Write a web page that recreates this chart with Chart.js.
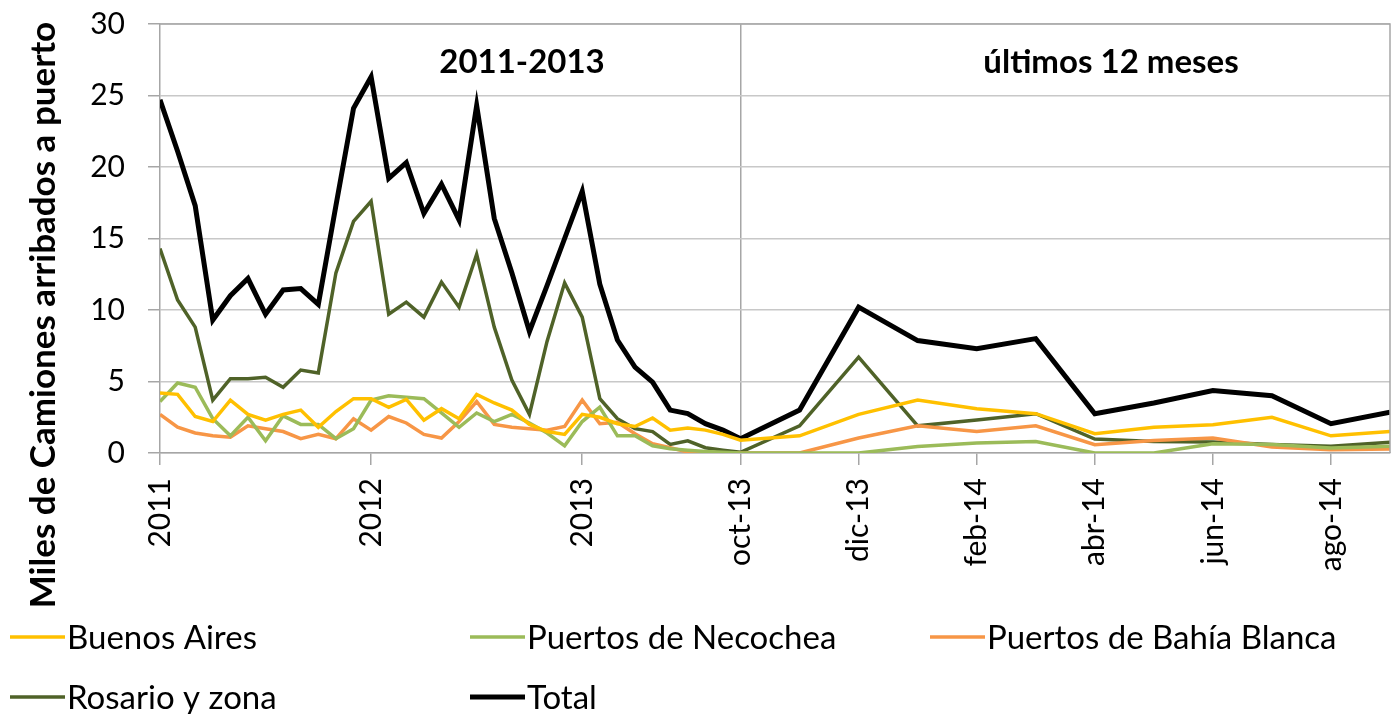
<!DOCTYPE html>
<html>
<head>
<meta charset="utf-8">
<script src="https://cdn.jsdelivr.net/npm/chart.js@4.4.1/dist/chart.umd.min.js"></script>
<style>
  html, body { margin: 0; padding: 0; background: #fff; }
  #wrap { width: 1397px; height: 714px; }
</style>
</head>
<body>
<div id="wrap"><canvas id="camiones" width="1397" height="714"></canvas></div>
<script>
// Serie mensual ene-2011 .. oct-2013 (34 meses)
const histBuenosAires = [4.2, 4.1, 2.55, 2.2, 3.7, 2.7, 2.3, 2.7, 3.0, 1.8, 2.9, 3.8,
                         3.8, 3.2, 3.75, 2.3, 3.1, 2.4, 4.1, 3.5, 3.0, 2.0, 1.5, 1.3,
                         2.7, 2.5, 2.05, 1.85, 2.45, 1.6, 1.75, 1.6, 1.3, 0.9];
const histNecochea = [3.6, 4.9, 4.6, 2.4, 1.2, 2.5, 0.85, 2.6, 2.0, 2.0, 1.0, 1.7,
                      3.7, 4.0, 3.9, 3.8, 2.8, 1.8, 2.8, 2.2, 2.7, 2.1, 1.4, 0.5,
                      2.2, 3.2, 1.2, 1.2, 0.5, 0.3, 0.2, 0.1, 0.05, 0];
const histBahia = [2.7, 1.8, 1.4, 1.2, 1.1, 1.9, 1.7, 1.5, 1.0, 1.3, 1.0, 2.4,
                   1.6, 2.55, 2.1, 1.3, 1.05, 2.2, 3.6, 2.0, 1.8, 1.7, 1.6, 1.85,
                   3.7, 2.05, 2.15, 1.35, 0.65, 0.37, 0.07, 0, 0, 0];
const histRosario = [14.3, 10.7, 8.8, 3.7, 5.2, 5.2, 5.3, 4.6, 5.8, 5.6, 12.6, 16.2,
                     17.6, 9.7, 10.55, 9.5, 11.95, 10.2, 13.9, 8.8, 5.1, 2.7, 7.8, 11.9,
                     9.5, 3.8, 2.4, 1.7, 1.5, 0.6, 0.85, 0.37, 0.2, 0.05];
const histTotal = [24.7, 21.1, 17.3, 9.3, 11.0, 12.2, 9.7, 11.4, 11.5, 10.4, 17.3, 24.1,
                   26.3, 19.2, 20.3, 16.75, 18.8, 16.3, 24.3, 16.4, 12.6, 8.5, 11.7, 15.0,
                   18.3, 11.8, 7.9, 6.0, 4.95, 3.0, 2.75, 2.05, 1.6, 1.0];

// Últimos 12 meses: oct-13 .. sep-14
const recBuenosAires = [0.9, 1.2, 2.7, 3.7, 3.1, 2.75, 1.35, 1.8, 1.98, 2.5, 1.2, 1.5];
const recNecochea = [0, 0, 0, 0.45, 0.7, 0.8, 0, 0, 0.65, 0.6, 0.35, 0.47];
const recBahia = [0, 0, 1.05, 1.9, 1.5, 1.9, 0.58, 0.88, 1.05, 0.42, 0.23, 0.28];
const recRosario = [0.05, 1.9, 6.7, 1.9, 2.3, 2.75, 0.98, 0.8, 0.77, 0.6, 0.47, 0.75];
const recTotal = [1.0, 3.0, 10.2, 7.86, 7.3, 8.0, 2.75, 3.5, 4.37, 4.0, 2.05, 2.85];

// Etiquetas del eje X (índice de mes dentro de cada tramo)
const histTickIdx = [0, 12, 24];
const histTickLabels = ['2011', '2012', '2013'];
const recTickIdx = [0, 2, 4, 6, 8, 10];
const recTickLabels = ['oct-13', 'dic-13', 'feb-14', 'abr-14', 'jun-14', 'ago-14'];

const seriesNames = ['Buenos Aires', 'Puertos de Necochea', 'Puertos de Bahía Blanca', 'Rosario y zona', 'Total'];
const seriesColors = ['#FFC000', '#9BBB59', '#F79646', '#4F6228', '#000000'];
const seriesWidths = [3.5, 3.5, 3.5, 3.5, 5];

// el tramo reciente está "estirado": cada mes ocupa más ancho que en el histórico
const HIST_END = histTotal.length - 1;
const REC_STEP = 3.356;
const xHist = i => i;
const xRec = k => HIST_END + k * REC_STEP;
const X_MAX = xRec(recTotal.length - 1);

function buildPoints(hist, rec) {
    const pts = hist.map((v, i) => ({ x: xHist(i), y: v }));
    rec.slice(1).forEach((v, k) => pts.push({ x: xRec(k + 1), y: v }));
    return pts;
}

const histSeries = [histBuenosAires, histNecochea, histBahia, histRosario, histTotal];
const recSeries = [recBuenosAires, recNecochea, recBahia, recRosario, recTotal];

const tickValues = histTickIdx.map(xHist).concat(recTickIdx.map(xRec));
const tickLabels = histTickLabels.concat(recTickLabels);
const SEP_X = xRec(0);

const FONT = 'Lato, "Open Sans", sans-serif';

// textos y marco que Chart.js no dibuja por sí mismo
const extras = {
    id: 'extras',
    afterDraw(chart) {
        const c = chart.ctx;
        const area = chart.chartArea;
        c.save();
        // marco del área de trazado
        c.strokeStyle = '#A6A6A6';
        c.lineWidth = 1.5;
        c.beginPath();
        c.moveTo(area.left, area.top);
        c.lineTo(area.right, area.top);
        c.lineTo(area.right, area.bottom);
        c.stroke();

        // títulos de los tramos
        c.fillStyle = '#000';
        c.font = 'bold 33px ' + FONT;
        c.textAlign = 'center';
        c.textBaseline = 'middle';
        c.fillText('2011-2013', 522, 62);
        c.fillText('últimos 12 meses', 1111, 62);

        // título del eje Y
        c.save();
        c.translate(44, 315);
        c.rotate(-Math.PI / 2);
        c.font = 'bold 35px ' + FONT;
        c.fillText('Miles de Camiones arribados a puerto', 0, 0);
        c.restore();

        // leyenda
        const cols = [10, 470, 930];
        const rows = [637, 697];
        c.font = '33px ' + FONT;
        c.textAlign = 'left';
        seriesNames.forEach((name, i) => {
            const x = cols[i % 3];
            const y = rows[Math.floor(i / 3)];
            c.strokeStyle = seriesColors[i];
            c.lineWidth = seriesWidths[i];
            c.beginPath();
            c.moveTo(x, y);
            c.lineTo(x + 55, y);
            c.stroke();
            c.fillStyle = '#000';
            c.fillText(name, x + 57, y + 1);
        });
        c.restore();
    }
};

const ctx = document.getElementById('camiones').getContext('2d');
new Chart(ctx, {
    type: 'line',
    data: {
        datasets: seriesNames.map((name, i) => ({
            label: name,
            data: buildPoints(histSeries[i], recSeries[i]),
            borderColor: seriesColors[i],
            backgroundColor: seriesColors[i],
            borderWidth: seriesWidths[i],
            pointRadius: 0,
            tension: 0,
            fill: false
        }))
    },
    options: {
        responsive: false,
        animation: false,
        devicePixelRatio: 1,
        layout: { padding: { left: 0, right: 7, top: 24, bottom: 0 } },
        plugins: {
            legend: { display: false },
            tooltip: { enabled: false }
        },
        scales: {
            x: {
                type: 'linear',
                min: 0,
                max: X_MAX,
                afterBuildTicks: scale => {
                    scale.ticks = tickValues.map(v => ({ value: v }));
                },
                afterFit: scale => {
                    scale.height = 261;
                    scale.paddingTop = 0;
                    scale.paddingLeft = 0;
                    scale.paddingRight = 0;
                },
                grid: {
                    drawOnChartArea: true,
                    color: c => (c.tick && Math.abs(c.tick.value - SEP_X) < 0.01) ? '#A6A6A6' : 'rgba(0,0,0,0)',
                    lineWidth: 1.5,
                    tickLength: 12,
                    tickColor: '#A6A6A6',
                    tickWidth: 1.5
                },
                border: { color: '#A6A6A6', width: 1.5 },
                ticks: {
                    autoSkip: false,
                    maxRotation: 90,
                    minRotation: 90,
                    padding: 13,
                    color: '#000',
                    font: { family: FONT, size: 30 },
                    callback: (v, idx) => tickLabels[idx]
                }
            },
            y: {
                min: 0,
                max: 30,
                afterFit: scale => {
                    scale.width = 160;
                    scale.paddingTop = 0;
                    scale.paddingBottom = 0;
                },
                grid: {
                    color: '#C8C8C8',
                    lineWidth: 1.5,
                    tickLength: 12,
                    tickColor: '#A6A6A6',
                    tickWidth: 1.5
                },
                border: { color: '#A6A6A6', width: 1.5 },
                ticks: {
                    stepSize: 5,
                    padding: 23,
                    color: '#000',
                    font: { family: FONT, size: 30 }
                }
            }
        }
    },
    plugins: [extras]
});
</script>
</body>
</html>
